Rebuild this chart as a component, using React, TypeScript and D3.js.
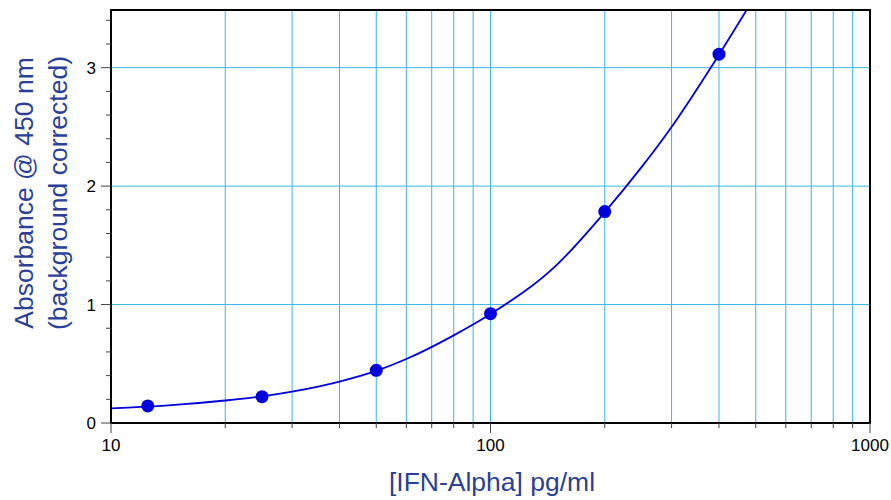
import React from "react";
import * as d3 from "d3";

const standardConc = [12.5, 25, 50, 100, 200, 400];
const standardAbs = [0.144, 0.222, 0.445, 0.923, 1.785, 3.114];

const curveConc = [10, 12.5, 15, 20, 25, 30, 40, 50, 60, 80, 100, 150, 200, 250, 300, 400, 480];
const curveAbs = [0.124, 0.138, 0.155, 0.19, 0.225, 0.265, 0.35, 0.44, 0.54, 0.74, 0.92, 1.34, 1.78, 2.16, 2.5, 3.11, 3.52];

const xMajorTicks = [10, 100, 1000];
const xMinorTicks = [20, 30, 40, 50, 60, 70, 80, 90, 200, 300, 400, 500, 600, 700, 800, 900];
const yMajorTicks = [0, 1, 2, 3];
const yMinorTicks = [0.2, 0.4, 0.6, 0.8, 1.2, 1.4, 1.6, 1.8, 2.2, 2.4, 2.6, 2.8, 3.2, 3.4];

const xTitle = "[IFN-Alpha] pg/ml";
const yTitle1 = "Absorbance @ 450 nm";
const yTitle2 = "(background corrected)";

export default function App() {
  const W = 891, H = 500;
  const L = 111, R = 870, T = 10, B = 423;
  const x = d3.scaleLog().domain([10, 1000]).range([L, R]);
  const y = d3.scaleLinear().domain([0, 3.487]).range([B, T]);
  const pts: [number, number][] = curveConc.map((c, i) => [c, curveAbs[i]]);
  const line = d3
    .line<[number, number]>()
    .x((d) => x(d[0]))
    .y((d) => y(d[1]))
    .curve(d3.curveMonotoneX);
  const grid = "#3db5e6";
  const tickColor = "#444";
  const titleColor = "#2b3f96";
  const font = "'Liberation Sans', Arial, Helvetica, sans-serif";
  return (
    <svg width={W} height={H} style={{ position: "absolute", left: 0, top: 0, background: "#fff" }} fontFamily={font}>
      <defs>
        <clipPath id="plot">
          <rect x={L} y={T} width={R - L} height={B - T} />
        </clipPath>
      </defs>
      <rect x={0} y={0} width={W} height={H} fill="#fff" />
      {[...xMinorTicks, 100].map((t) => (
        <line key={"gx" + t} x1={x(t)} x2={x(t)} y1={T} y2={B} stroke={grid} strokeWidth={1} />
      ))}
      {yMajorTicks.filter((t) => t > 0).map((t) => (
        <line key={"gy" + t} x1={L} x2={R} y1={y(t)} y2={y(t)} stroke={grid} strokeWidth={1} />
      ))}
      <path d={line(pts) || ""} fill="none" stroke="#0000dd" strokeWidth={1.8} clipPath="url(#plot)" />
      {standardConc.map((c, i) => (
        <circle key={"p" + i} cx={x(c)} cy={y(standardAbs[i])} r={6.5} fill="#0000dd" />
      ))}
      <rect x={L} y={T} width={R - L} height={B - T} fill="none" stroke="#000" strokeWidth={2} />
      {xMajorTicks.map((t) => (
        <g key={"xt" + t}>
          <line x1={x(t)} x2={x(t)} y1={B} y2={B + 10} stroke={tickColor} strokeWidth={1} />
          <text x={x(t)} y={451} textAnchor="middle" fontSize={17} fill="#000">
            {t}
          </text>
        </g>
      ))}
      {xMinorTicks.map((t) => (
        <line key={"xm" + t} x1={x(t)} x2={x(t)} y1={B} y2={B + 5} stroke={tickColor} strokeWidth={1} />
      ))}
      {yMajorTicks.map((t) => (
        <g key={"yt" + t}>
          <line x1={L - 10} x2={L} y1={y(t)} y2={y(t)} stroke={tickColor} strokeWidth={1} />
          <text x={96} y={y(t)} dy="0.36em" textAnchor="end" fontSize={17} fill="#000">
            {t}
          </text>
        </g>
      ))}
      {yMinorTicks.map((t) => (
        <line key={"ym" + t} x1={L - 5} x2={L} y1={y(t)} y2={y(t)} stroke={tickColor} strokeWidth={1} />
      ))}
      <text x={492} y={491} textAnchor="middle" fontSize={26.5} fill={titleColor}>
        {xTitle}
      </text>
      <g transform="translate(0,193) rotate(-90)">
        <text x={0} y={33} textAnchor="middle" fontSize={26.5} fill={titleColor}>
          {yTitle1}
        </text>
        <text x={0} y={67} textAnchor="middle" fontSize={26.5} fill={titleColor}>
          {yTitle2}
        </text>
      </g>
    </svg>
  );
}
